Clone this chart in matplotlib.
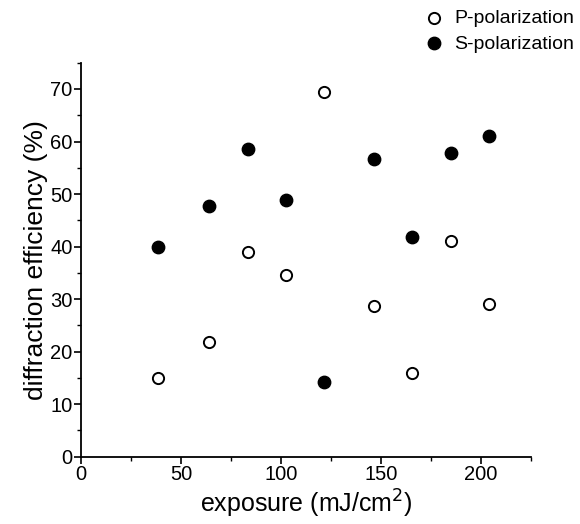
import matplotlib
matplotlib.use("Agg")
import matplotlib.pyplot as plt
from matplotlib.ticker import MultipleLocator

plt.rcParams['font.family'] = ['Liberation Sans', 'DejaVu Sans']

exposure = [38.3, 64.2, 83.3, 102.5, 121.5, 146.7, 165.7, 184.8, 204.0]
p_pol = [15.0, 21.8, 39.0, 34.5, 69.4, 28.7, 16.0, 41.0, 29.1]
s_pol = [40.0, 47.8, 58.5, 48.9, 14.3, 56.7, 41.8, 57.8, 61.0]

fig = plt.figure(figsize=(5.8, 5.24), dpi=100)
ax = fig.add_axes([0.1397, 0.1284, 0.9155 - 0.1397, 0.8803 - 0.1284])

ax.scatter(exposure, p_pol, s=65, facecolors='white', edgecolors='black',
           linewidths=1.4, label='P-polarization', zorder=3, clip_on=False)
ax.scatter(exposure, s_pol, s=80, facecolors='black', edgecolors='black',
           linewidths=1.0, label='S-polarization', zorder=3, clip_on=False)

ax.set_xlim(0, 225)
ax.set_ylim(0, 75)
ax.xaxis.set_major_locator(MultipleLocator(50))
ax.xaxis.set_minor_locator(MultipleLocator(25))
ax.yaxis.set_minor_locator(MultipleLocator(5))
ax.set_yticks([0, 10, 20, 30, 40, 50, 60, 70])

for s in ['top', 'right']:
    ax.spines[s].set_visible(False)
for s in ['left', 'bottom']:
    ax.spines[s].set_linewidth(1.3)

ax.tick_params(axis='both', which='major', direction='out', length=5, width=1.2,
               labelsize=14.5, pad=1)
ax.tick_params(axis='both', which='minor', direction='out', length=3, width=1.0)

ax.set_xlabel('exposure (mJ/cm$^2$)', fontsize=18, labelpad=3)
ax.set_ylabel('diffraction efficiency (%)', fontsize=19, labelpad=2)

leg = ax.legend(loc='upper left', bbox_to_anchor=(0.762, 1.135), frameon=False,
                fontsize=14, handletextpad=0.55, labelspacing=0.4,
                borderaxespad=0, handlelength=1.0, borderpad=0)

fig.savefig('out.png', dpi=100)
